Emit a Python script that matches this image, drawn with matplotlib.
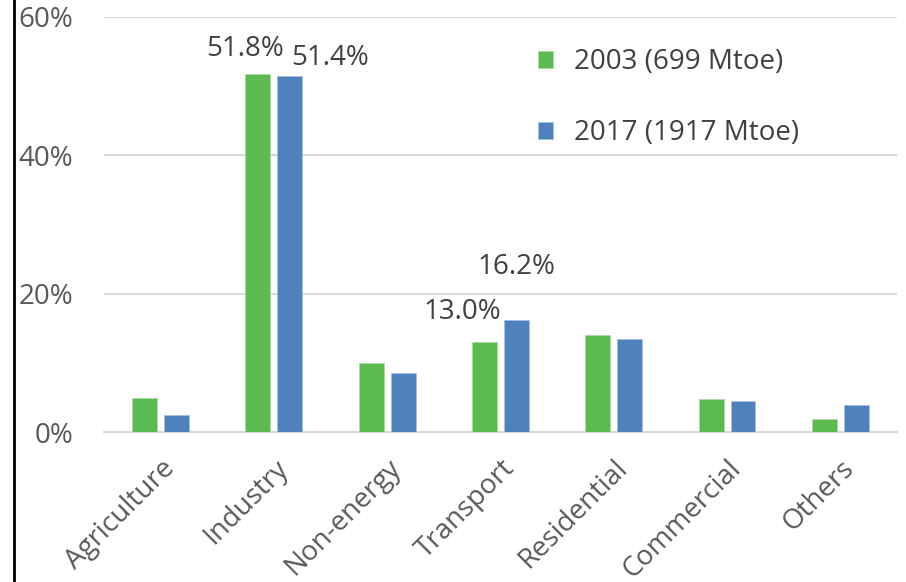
import numpy as np
import matplotlib.pyplot as plt
from matplotlib.lines import Line2D

plt.rcParams['font.family'] = ['Open Sans', 'DejaVu Sans']

sectors = ["Agriculture", "Industry", "Non-energy", "Transport", "Residential", "Commercial", "Others"]
share_2003 = [4.9, 51.8, 10.0, 13.0, 14.0, 4.8, 1.9]
share_2017 = [2.4, 51.4, 8.5, 16.2, 13.4, 4.5, 3.9]
labels = ["2003 (699 Mtoe)", "2017 (1917 Mtoe)"]
green = "#5CBB50"
blue = "#4F81BD"

fig = plt.figure(figsize=(9.06, 5.82), dpi=100)
ax = fig.add_axes([0.1148, 0.2577, 0.8752, 0.7131])

x = np.arange(len(sectors))
w = 0.22
ax.bar(x - 0.141, share_2003, w, color=green, edgecolor="#a8dca0", linewidth=0.6, label=labels[0], zorder=3)
ax.bar(x + 0.141, share_2017, w, color=blue, edgecolor="#a6c0e0", linewidth=0.6, label=labels[1], zorder=3)

ax.set_xlim(-0.5, len(sectors) - 0.5)
ax.set_ylim(0, 60)
ax.set_yticks([0, 20, 40, 60])
ax.set_yticklabels(["0%", "20%", "40%", "60%"])
ax.yaxis.grid(True, color="#d9d9d9", linewidth=1.5, zorder=0)
for s in ["top", "right", "left"]:
    ax.spines[s].set_visible(False)
ax.spines["bottom"].set_color("#d9d9d9")
ax.spines["bottom"].set_linewidth(1.5)
ax.tick_params(axis="y", length=0, pad=22, labelsize=20, labelcolor="#595959")
ax.tick_params(axis="x", length=0, pad=16, labelsize=20, labelcolor="#595959")
ax.set_xticks(x)
ax.set_xticklabels(sectors, rotation=45, ha="right", rotation_mode="anchor")

# data labels only on Industry and Transport
dl = dict(fontsize=20, color="#404040", ha="center", va="center")
ax.annotate(f"{share_2003[1]:.1f}%", (x[1] - 0.141, share_2003[1]), xytext=(-9, 18), textcoords="offset points", **dl)
ax.annotate(f"{share_2017[1]:.1f}%", (x[1] + 0.141, share_2017[1]), xytext=(29, 13), textcoords="offset points", **dl)
ax.annotate(f"{share_2003[3]:.1f}%", (x[3] - 0.141, share_2003[3]), xytext=(-16, 22), textcoords="offset points", **dl)
ax.annotate(f"{share_2017[3]:.1f}%", (x[3] + 0.141, share_2017[3]), xytext=(0, 38), textcoords="offset points", **dl)

ax.legend(loc="upper left", bbox_to_anchor=(0.516, 0.985), frameon=False, fontsize=20,
          labelcolor="#404040", handlelength=0.55, handleheight=0.6, handletextpad=0.75,
          labelspacing=1.55)

fig.add_artist(Line2D([14 / 906, 14 / 906], [0, 1], color="black", linewidth=2, transform=fig.transFigure))

fig.savefig("out.png", dpi=100)
